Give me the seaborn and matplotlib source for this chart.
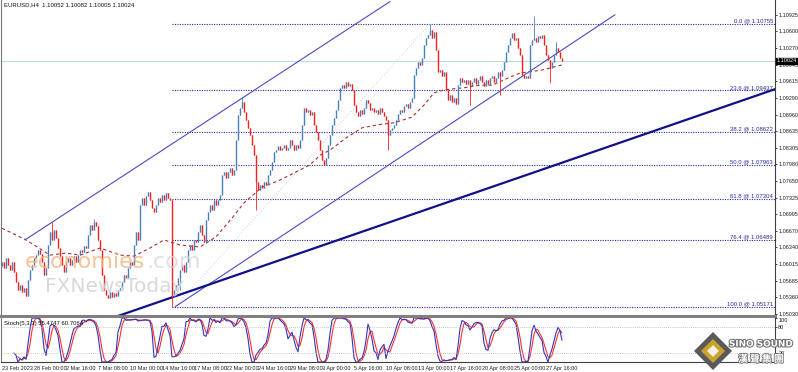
import numpy as np
import pandas as pd
import seaborn as sns
import matplotlib.pyplot as plt
import matplotlib.transforms as mtransforms
from matplotlib.patches import Polygon
import matplotlib.patheffects as pe

# EURUSD H4 closes, one per bar (23 Feb 08:00 -> 28 Apr)
closes = [
    1.0605, 1.0594, 1.0613, 1.0600, 1.0590, 1.0605, 1.0586, 1.0566, 1.0550, 1.0560,
    1.0546, 1.0554, 1.0538, 1.0570, 1.0590,
    1.0600, 1.0613, 1.0619, 1.0629, 1.0621, 1.0605, 1.0580, 1.0594, 1.0639, 1.0665,
    1.0649, 1.0669, 1.0653, 1.0633, 1.0617,
    1.0600, 1.0586, 1.0605, 1.0613, 1.0600, 1.0609, 1.0617, 1.0605, 1.0619, 1.0629,
    1.0625, 1.0637, 1.0633, 1.0659, 1.0678, 1.0669, 1.0684, 1.0676, 1.0649, 1.0629,
    1.0580, 1.0550, 1.0540, 1.0534, 1.0546, 1.0536, 1.0544, 1.0538, 1.0550, 1.0554,
    1.0566, 1.0580, 1.0574, 1.0594, 1.0605, 1.0600, 1.0639, 1.0665, 1.0649, 1.0718,
    1.0732, 1.0718, 1.0736, 1.0743, 1.0728, 1.0712, 1.0704, 1.0718, 1.0732, 1.0724,
    1.0738, 1.0728, 1.0742, 1.0732, 1.0728, 1.0536,
    1.0550, 1.0560, 1.0574, 1.0590, 1.0600, 1.0586, 1.0605, 1.0629, 1.0639, 1.0629,
    1.0649, 1.0645, 1.0665, 1.0678, 1.0659, 1.0645, 1.0688, 1.0704, 1.0718, 1.0708,
    1.0728, 1.0718, 1.0728, 1.0738, 1.0777, 1.0783, 1.0771, 1.0783, 1.0791, 1.0777,
    1.0787,
    1.0846, 1.0895, 1.0909, 1.0921, 1.0901, 1.0885, 1.0870, 1.0856, 1.0836, 1.0816,
    1.0763, 1.0747, 1.0757, 1.0751, 1.0763, 1.0757, 1.0777, 1.0787, 1.0803, 1.0822,
    1.0826, 1.0834, 1.0826, 1.0830, 1.0836, 1.0826, 1.0830, 1.0846,
    1.0836, 1.0826, 1.0836, 1.0830, 1.0846, 1.0876, 1.0909, 1.0901, 1.0905, 1.0895,
    1.0901, 1.0876, 1.0862, 1.0846, 1.0826, 1.0807, 1.0797, 1.0811, 1.0836, 1.0856,
    1.0876, 1.0889, 1.0905, 1.0925, 1.0949, 1.0954, 1.0949,
    1.0960, 1.0952, 1.0956, 1.0945, 1.0915, 1.0901, 1.0893, 1.0905, 1.0897, 1.0909,
    1.0925, 1.0919, 1.0905, 1.0909, 1.0901, 1.0905, 1.0897, 1.0909, 1.0901, 1.0893,
    1.0885, 1.0856, 1.0866, 1.0870, 1.0876, 1.0885, 1.0897, 1.0905, 1.0901, 1.0913,
    1.0917, 1.0909,
    1.0921, 1.0929, 1.0974, 1.0988, 1.0999, 1.0994, 1.1008, 1.1033, 1.1047, 1.1053,
    1.1063, 1.1047, 1.1059, 1.1023, 1.0980, 1.0984, 1.0972, 1.0980, 1.0945, 1.0925,
    1.0935, 1.0921, 1.0929, 1.0917, 1.0954, 1.0968, 1.0960, 1.0964,
    1.0956, 1.0964, 1.0952, 1.0960, 1.0968, 1.0956, 1.0964, 1.0972, 1.0960, 1.0952,
    1.0964, 1.0956, 1.0968, 1.0972, 1.0960, 1.0968, 1.0980, 1.0972, 1.0984, 1.0999,
    1.1020, 1.1033, 1.1047, 1.1057, 1.1043, 1.1047, 1.1027, 1.1014, 1.0974, 1.0968,
    1.0972, 1.0968, 1.1033, 1.1043, 1.1047, 1.1039, 1.1051, 1.1047, 1.1053, 1.1033,
    1.1014, 1.1004, 1.0988, 1.0999, 1.1014, 1.1027, 1.1020, 1.1008, 1.1002,
]
first_open = 1.0598

# the longer wicks that stand out (bar index -> price)
wick_highs = {25: 1.0684, 46: 1.0690, 120: 1.0930, 214: 1.1075, 266: 1.1090, 277: 1.1039}
wick_lows = {85: 1.0517, 89: 1.0550, 127: 1.0708, 193: 1.0826, 234: 1.0915,
             249: 1.0935, 274: 1.0958}

# dashed moving average, read at a few bars
ma_bars = [0, 12, 24, 32, 39, 49, 59, 66, 74, 81, 89, 99, 107, 115, 121, 130, 139,
           147, 154, 159, 164, 172, 180, 188, 196, 205, 211, 216, 221, 231, 239,
           245, 254, 259, 270, 280]
ma_vals = [1.0672, 1.0649, 1.0619, 1.0623, 1.0619, 1.0633, 1.0619, 1.0617, 1.0633,
           1.0649, 1.0639, 1.0635, 1.0655, 1.0692, 1.0722, 1.0753, 1.0767, 1.0783,
           1.0797, 1.0816, 1.0826, 1.0850, 1.0870, 1.0876, 1.0880, 1.0891, 1.0915,
           1.0939, 1.0945, 1.0949, 1.0954, 1.0954, 1.0970, 1.0978, 1.0984, 1.0994]

fib_pcts = ['0.0', '23.6', '38.2', '50.0', '61.8', '76.4', '100.0']
fib_prices = [1.10755, 1.09437, 1.08622, 1.07963, 1.07304, 1.06489, 1.05171]

# drawn lines: (bar, price) end points
channel_up = ([11.5, 194.0], [1.0649, 1.1119])
channel_low = ([86.5, 306.5], [1.0517, 1.1093])
support = ([50.0, 390.0], [1.0488, 1.0951])
fib_diag = ([86.5, 214.0], [1.0517, 1.1075])

price_ticks = [1.10925, 1.10600, 1.10270, 1.09945, 1.09615, 1.09290, 1.08960,
               1.08635, 1.08305, 1.07980, 1.07650, 1.07325, 1.06995, 1.06670,
               1.06340, 1.06015, 1.05685, 1.05360, 1.05030]
date_labels = ['23 Feb 2023', '28 Feb 00:00', '2 Mar 16:00', '7 Mar 08:00',
               '10 Mar 00:00', '14 Mar 16:00', '17 Mar 08:00', '22 Mar 00:00',
               '24 Mar 16:00', '29 Mar 08:00', '3 Apr 00:00', '5 Apr 16:00',
               '10 Apr 08:00', '13 Apr 00:00', '17 Apr 16:00', '20 Apr 08:00',
               '25 Apr 00:00', '27 Apr 16:00']
last_price = 1.10024

sns.set_style('white')
plt.rcParams['font.family'] = ['Liberation Sans Narrow', 'Liberation Sans', 'DejaVu Sans']
FS = 4.0

# build OHLC frame
df = pd.DataFrame({'bar': np.arange(len(closes)), 'close': closes})
df['open'] = df['close'].shift(1).fillna(first_open)
df['high'] = df[['open', 'close']].max(axis=1)
df['low'] = df[['open', 'close']].min(axis=1)
for k, v in wick_highs.items():
    df.loc[k, 'high'] = max(df.loc[k, 'high'], v)
for k, v in wick_lows.items():
    df.loc[k, 'low'] = min(df.loc[k, 'low'], v)

# Stochastic 5,3,3 computed from the bars
hh = df['high'].rolling(5).max()
ll = df['low'].rolling(5).min()
df['k'] = 100 * (df['close'] - ll).rolling(3).sum() / (hh - ll).rolling(3).sum()
df['d'] = df['k'].rolling(3).mean()

W, H = 798, 372
fig = plt.figure(figsize=(W / 100, H / 100), dpi=100)
ax = fig.add_axes([1 / W, 1 - 316 / H, 774 / W, 316 / H])
ax2 = fig.add_axes([1 / W, 1 - 362 / H, 774 / W, 44 / H])

up_c, dn_c = '#4a80b8', '#ff1c1c'
cols = np.where(df['close'] >= df['open'], up_c, dn_c)
body_lo = df[['open', 'close']].min(axis=1)
body_hi = np.maximum(df[['open', 'close']].max(axis=1), body_lo + 0.00012)
ax.vlines(df['bar'], df['low'], df['high'], colors=cols, lw=0.6, zorder=3)
ax.vlines(df['bar'], body_lo, body_hi, colors=cols, lw=1.0, zorder=3)

# moving average
ma_df = pd.DataFrame({'bar': ma_bars, 'ma': ma_vals})
sns.lineplot(data=ma_df, x='bar', y='ma', ax=ax, color='#a83232', lw=0.8, zorder=2)
ax.lines[-1].set_dashes([3, 2.5])

# fibonacci levels
ax.hlines(fib_prices, 85, 386.5, colors='#2a2a9c', linestyles=(0, (1, 1.2)), lw=0.8, zorder=1)
for p, v in zip(fib_pcts, fib_prices):
    ax.text(385.5, v + 0.0001, f'{p} @ {v:.5f}', ha='right', va='bottom',
            fontsize=FS + 0.3, color='#2a2a9c', zorder=4)

# current price line
ax.axhline(last_price, color='#bcdce6', lw=0.9, zorder=1)

# trend lines
ax.plot(*channel_up, color='#4c4cc0', lw=0.8, zorder=2)
ax.plot(*channel_low, color='#4c4cc0', lw=0.8, zorder=2)
ax.plot(*support, color='#10108a', lw=1.6, zorder=2)
ax.plot(*fib_diag, color='#cfcfcf', lw=0.7, ls=(0, (1, 2)), zorder=1)

ax.set_xlim(-0.5, 386.5)
ax.set_ylim(1.04989, 1.11221)
ax.set_xticks([])
ax.yaxis.tick_right()
ax.set_yticks(price_ticks)
ax.set_yticklabels([f'{t:.5f}' for t in price_ticks])
ax.tick_params(axis='y', labelsize=FS, length=1.5, width=0.6, pad=0.8, colors='#202020')
ax.set_xlabel('')
ax.set_ylabel('')
ax.spines['top'].set_visible(False)
ax.spines['left'].set_color('#7a7a7a')
ax.spines['left'].set_linewidth(0.8)
ax.spines['right'].set_color('#404040')
ax.spines['right'].set_linewidth(0.8)
ax.spines['bottom'].set_color('#808080')
ax.spines['bottom'].set_linewidth(2.2)

ax.text(0.004, 0.993, 'EURUSD,H4  1.10052 1.10082 1.10005 1.10024', transform=ax.transAxes,
        ha='left', va='top', fontsize=FS + 0.3, color='#101010')

tr = mtransforms.blended_transform_factory(ax.transAxes, ax.transData)
ax.text(1.0025, last_price, '1.10024', transform=tr, ha='left', va='center', fontsize=FS,
        color='white', zorder=10, clip_on=False,
        bbox=dict(boxstyle='square,pad=0.12', fc='black', ec='black'))

# stochastic window
sns.lineplot(data=df, x='bar', y='d', ax=ax2, color='#ff3030', lw=0.8)
sns.lineplot(data=df, x='bar', y='k', ax=ax2, color='#3434b8', lw=0.8)
ax2.axhline(80, color='#b4b4b4', lw=0.6, ls=(0, (1, 1.5)))
ax2.axhline(20, color='#b4b4b4', lw=0.6, ls=(0, (1, 1.5)))
ax2.set_xlim(-0.5, 386.5)
ax2.set_ylim(0, 100)
ax2.set_xlabel('')
ax2.set_ylabel('')
ax2.yaxis.tick_right()
ax2.set_yticks([100, 80, 20, 0])
ax2.set_yticklabels(['100', '80', '20', '0'])
labs = ax2.get_yticklabels()
labs[0].set_va('top')
labs[3].set_va('bottom')
ax2.tick_params(axis='y', labelsize=FS, length=1.5, width=0.6, pad=0.8, colors='#202020')
ax2.set_xticks(np.arange(len(date_labels)) * 16)
ax2.set_xticklabels(date_labels, ha='left')
ax2.tick_params(axis='x', labelsize=FS, length=2, width=0.6, pad=1, colors='#202020')
ax2.spines['top'].set_visible(False)
ax2.spines['left'].set_color('#7a7a7a')
ax2.spines['left'].set_linewidth(0.8)
ax2.spines['right'].set_color('#404040')
ax2.spines['right'].set_linewidth(0.8)
ax2.spines['bottom'].set_color('#404040')
ax2.spines['bottom'].set_linewidth(0.8)
ax2.text(0.004, 0.93, 'Stoch(5,3,3) 55.4747 60.7064', transform=ax2.transAxes,
         ha='left', va='top', fontsize=FS + 0.3, color='#101010')

# watermarks
fig.text(25 / W, 1 - 268 / H, 'economies', fontsize=16, color='#f7b27c', alpha=0.8,
         family=['DejaVu Sans'], ha='left', va='baseline', zorder=0)
fig.text(147 / W, 1 - 268 / H, '.com', fontsize=16, color='#d8d8d8', alpha=0.8,
         family=['DejaVu Sans'], ha='left', va='baseline', zorder=0)
fig.text(45 / W, 1 - 292 / H, 'FXNewsToday', fontsize=14.5, color='#d2d2d2', alpha=0.85,
         family=['DejaVu Sans'], ha='left', va='baseline', zorder=0)

# SINO SOUND logo
cx, cy, r = 713, 351, 19
outer = [(cx, cy - r), (cx + r, cy), (cx, cy + r), (cx - r, cy)]
inner = [(cx, cy - 12), (cx + 12, cy), (cx, cy + 12), (cx - 12, cy)]
core = [(cx, cy - 6), (cx + 6, cy), (cx, cy + 6), (cx - 6, cy)]
for pts, c in [(outer, '#5a5a5a'), (inner, '#c9a22e'), (core, '#f4f0e0')]:
    fig.add_artist(Polygon([(x / W, 1 - y / H) for x, y in pts], closed=True,
                           transform=fig.transFigure, fc=c, ec='none', zorder=20))
fig.text(761 / W, 1 - 344 / H, 'SINO SOUND', fontsize=6.4, fontweight='bold', color='white',
         family=['DejaVu Sans'], ha='center', va='center', zorder=21,
         path_effects=[pe.withStroke(linewidth=1.5, foreground='#6e6e6e')])
fig.text(761 / W, 1 - 359 / H, '漢 聲 集 團', fontsize=7, fontweight='bold', color='white',
         family=['Noto Sans CJK TC'], ha='center', va='center', zorder=21,
         path_effects=[pe.withStroke(linewidth=1.3, foreground='#7a7a7a')])

fig.savefig('out.png', dpi=100)
